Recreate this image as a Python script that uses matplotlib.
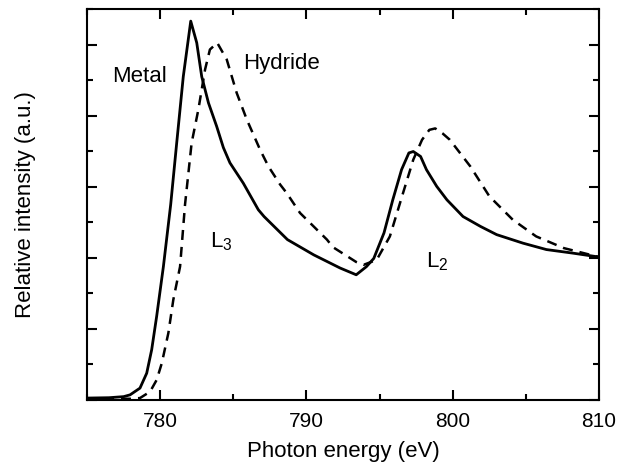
#!/usr/bin/env python
'''
    L-edge absorption spectra, metal vs hydride
'''

import matplotlib
matplotlib.use('Agg')
import matplotlib.pyplot as plt
from matplotlib.ticker import MultipleLocator, NullFormatter

plt.rcParams['font.family'] = ['Liberation Sans', 'DejaVu Sans']
plt.rcParams['mathtext.fontset'] = 'custom'
plt.rcParams['mathtext.rm'] = 'Liberation Sans'

metal_energy = [775.0, 776.5, 777.5, 777.94, 778.62, 779.08, 779.42, 779.76, 780.22, 780.72,
                781.13, 781.58, 782.09, 782.5, 782.84, 783.3, 783.86, 784.32, 784.77, 785.68,
                786.71, 787.1, 788.7, 790.5, 792.3, 793.4, 794.1, 794.6, 795.3,
                795.9, 796.5, 797.0, 797.3, 797.8, 798.2, 798.9, 799.6, 800.7, 801.9,
                803.0, 804.8, 806.4, 808.2, 810.0]
metal_intensity = [0.05, 0.06, 0.09, 0.14, 0.33, 0.75, 1.41, 2.35, 3.75, 5.5,
                   7.23, 9.1, 10.66, 10.05, 9.1, 8.36, 7.7, 7.1, 6.67, 6.1,
                   5.35, 5.16, 4.51, 4.08, 3.71, 3.52, 3.75, 3.98, 4.7,
                   5.63, 6.48, 6.95, 6.99, 6.85, 6.48, 6.01, 5.63, 5.16, 4.88,
                   4.65, 4.41, 4.23, 4.13, 4.02]

hydride_energy = [775.0, 777.0, 778.0, 778.62, 779.31, 779.76, 780.11, 780.56, 780.9, 781.36,
                  781.7, 782.15, 782.61, 783.07, 783.4, 783.9, 784.55, 785.23, 785.92, 786.83,
                  787.4, 788.2, 788.65, 789.56, 791.4, 791.8, 793.4, 793.9, 794.8, 795.7,
                  796.6, 797.3, 797.9, 798.4, 798.8, 799.3, 799.8, 801.2, 802.5, 804.1,
                  805.7, 807.6, 810.0]
hydride_intensity = [0.03, 0.03, 0.03, 0.05, 0.23, 0.56, 1.03, 1.88, 2.82, 3.75,
                     5.5, 7.23, 8.17, 9.3, 9.86, 10.05, 9.58, 8.64, 7.89, 7.04,
                     6.57, 6.06, 5.82, 5.26, 4.51, 4.3, 3.88, 3.8, 3.94, 4.6,
                     5.82, 6.76, 7.32, 7.6, 7.64, 7.5, 7.32, 6.57, 5.73, 5.07,
                     4.6, 4.27, 4.02]

fig = plt.figure(figsize=(6.26, 4.76), dpi=100)
ax = fig.add_axes([0.139, 0.160, 0.818, 0.821])

ax.plot(metal_energy, metal_intensity, color='black', lw=2.0, solid_joinstyle='round')
ax.plot(hydride_energy, hydride_intensity, color='black', lw=1.8, dashes=(4, 2.8))

ax.set_xlim(775, 810)
ax.set_ylim(0, 11)
ax.xaxis.set_major_locator(MultipleLocator(10))
ax.xaxis.set_minor_locator(MultipleLocator(5))
ax.yaxis.set_major_locator(MultipleLocator(2))
ax.yaxis.set_minor_locator(MultipleLocator(1))
ax.yaxis.set_major_formatter(NullFormatter())
ax.tick_params(which='both', direction='in', top=True, right=True, width=1.5, labelsize=15, pad=9)
ax.tick_params(which='major', length=7)
ax.tick_params(which='minor', length=4)
for s in ax.spines.values():
    s.set_linewidth(1.5)

ax.set_xlabel('Photon energy (eV)', fontsize=16, labelpad=7)
ax.set_ylabel('Relative intensity (a.u.)', fontsize=16, labelpad=28)

ax.text(778.6, 9.1, 'Metal', fontsize=16, ha='center', va='center')
ax.text(788.3, 9.46, 'Hydride', fontsize=16, ha='center', va='center')
ax.text(783.4, 4.45, r'$\mathregular{L_3}$', fontsize=16, ha='left', va='center')
ax.text(798.2, 3.9, r'$\mathregular{L_2}$', fontsize=16, ha='left', va='center')

fig.savefig('out.png', dpi=100)
